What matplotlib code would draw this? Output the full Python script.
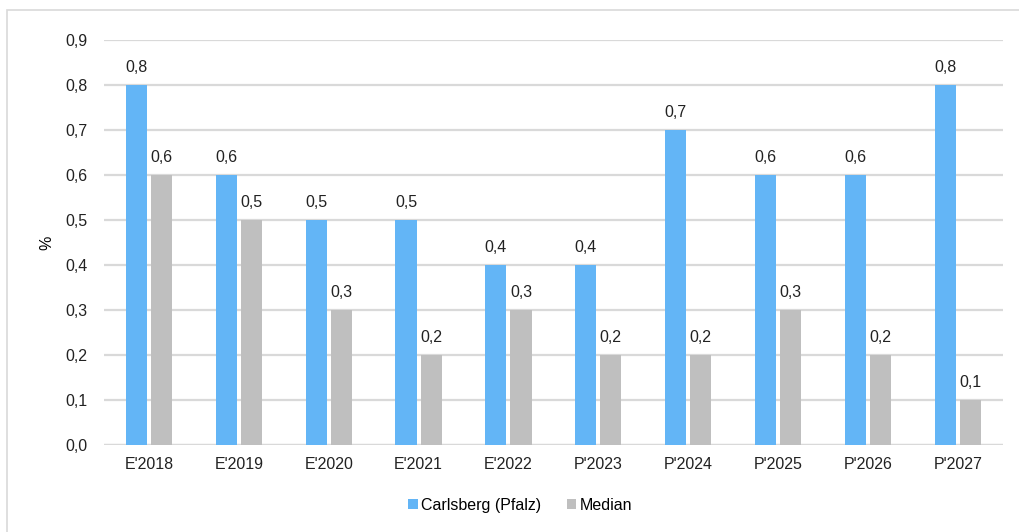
import matplotlib
matplotlib.use('Agg')
import matplotlib.pyplot as plt
import numpy as np
from matplotlib.patches import Rectangle

plt.rcParams['font.family'] = ['Liberation Sans', 'DejaVu Sans']

categories = ["E'2018", "E'2019", "E'2020", "E'2021", "E'2022",
              "P'2023", "P'2024", "P'2025", "P'2026", "P'2027"]
carlsberg = [0.8, 0.6, 0.5, 0.5, 0.4, 0.4, 0.7, 0.6, 0.6, 0.8]
median = [0.6, 0.5, 0.3, 0.2, 0.3, 0.2, 0.2, 0.3, 0.2, 0.1]

blue = '#63b5f6'
grey = '#bfbfbf'
fs = 11.5

fig = plt.figure(figsize=(10.2, 5.32), dpi=100)
ax = fig.add_axes([0.102, 0.164, 0.881, 0.761])

# light frame around the chart (runs off the right and bottom edges)
fig.patches.append(Rectangle((7 / 1020, -0.05), 1.1, 1.05 - 10 / 532,
                             transform=fig.transFigure, fill=False,
                             edgecolor='#d9d9d9', linewidth=1.2))

x = np.arange(len(categories))
w = 0.235
off = 0.14
b1 = ax.bar(x - off, carlsberg, w, color=blue, label='Carlsberg (Pfalz)', zorder=3)
b2 = ax.bar(x + off, median, w, color=grey, label='Median', zorder=3)

for bars, vals in ((b1, carlsberg), (b2, median)):
    for r, v in zip(bars, vals):
        ax.annotate(('%.1f' % v).replace('.', ','),
                    (r.get_x() + r.get_width() / 2, v),
                    xytext=(0, 7), textcoords='offset points',
                    ha='center', va='bottom', fontsize=fs, color='#222222')

ax.set_xlim(-0.5, len(categories) - 0.5)
ax.set_ylim(0, 0.9)
ax.set_yticks(np.arange(0, 0.91, 0.1))
ax.set_yticklabels([('%.1f' % t).replace('.', ',') for t in np.arange(0, 0.91, 0.1)])
ax.set_xticks(x)
ax.set_xticklabels(categories)
ax.tick_params(axis='both', length=0, labelsize=fs, colors='#222222')
ax.tick_params(axis='y', pad=12)
ax.tick_params(axis='x', pad=9)
ax.set_ylabel('%', fontsize=fs, labelpad=8)
ax.yaxis.grid(True, color='#d9d9d9', linewidth=1.6, zorder=0)
for s in ax.spines.values():
    s.set_visible(False)
ax.axhline(0, color='#d9d9d9', linewidth=1.6, zorder=2)

fig.legend(loc='center', bbox_to_anchor=(0.51, 0.05), ncol=2, frameon=False,
           fontsize=fs, handlelength=0.6, handleheight=0.6,
           handletextpad=0.2, columnspacing=1.6)

fig.savefig('out.png', dpi=100)
